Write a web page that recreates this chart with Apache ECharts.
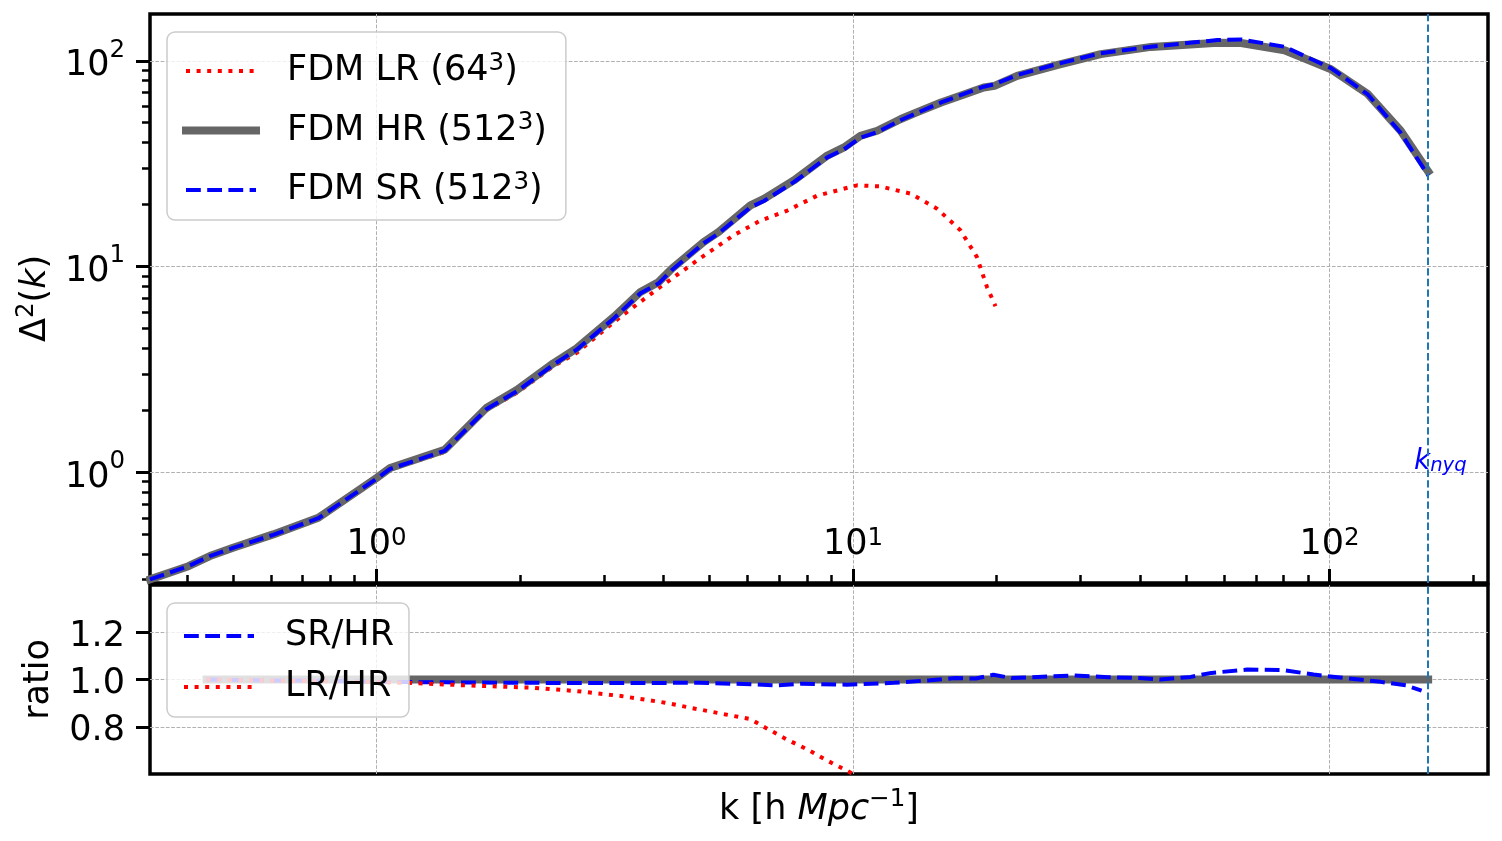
<!DOCTYPE html>
<html>
<head>
<meta charset="utf-8">
<title>FDM power spectrum</title>
<script src="https://cdn.jsdelivr.net/npm/echarts@6.0.0/dist/echarts.min.js"></script>
<style>
  html, body { margin: 0; padding: 0; background: #fff; }
  #chart { width: 1502px; height: 841px; }
</style>
</head>
<body>
<div id="chart"></div>
<script>
// k [h/Mpc] and Delta^2(k)
var kHR = [0.3347, 0.403, 0.447, 0.50, 0.607, 0.755, 1.00, 1.068, 1.39, 1.70, 1.97, 2.35, 2.63, 3.15, 3.58, 3.91, 4.17,
  4.86, 5.22, 6.09, 6.5, 7.51, 8.83, 9.57, 10.37, 11.24, 12.6, 13.6, 15.3, 16.8, 18.8, 19.8, 22.1, 26.9, 33.1, 42.2,
  58.2, 65.2, 80.4, 100.7, 120.3, 141, 161];
var dHR = [0.301, 0.349, 0.391, 0.429, 0.498, 0.600, 0.937, 1.047, 1.285, 2.05, 2.51, 3.38, 4.0, 5.69, 7.52, 8.41, 9.77,
  13.15, 14.7, 19.8, 21.3, 26.2, 34.6, 37.9, 43.2, 45.7, 52.1, 56.1, 62.7, 67.6, 74.1, 75.5, 84.5, 95.5, 107.7, 116.8,
  122.5, 122.1, 112.5, 91.0, 68.9, 45.7, 29.0];
var dSR = [0.301, 0.349, 0.391, 0.428, 0.496, 0.597, 0.928, 1.037, 1.270, 2.02, 2.47, 3.33, 3.94, 5.60, 7.41, 8.28, 9.62,
  12.97, 14.46, 19.4, 20.8, 25.7, 33.9, 37.1, 42.3, 45.0, 51.5, 55.7, 62.7, 68.0, 74.8, 77.0, 85.2, 96.6, 108.8, 117.0,
  126.2, 127.0, 117.0, 92.1, 68.6, 44.6, 27.7];
var kLR = [0.3347, 0.447, 0.607, 0.755, 1.0, 1.068, 1.39, 1.70, 1.97, 2.35, 2.63, 3.25, 3.94, 4.71, 5.62, 6.39, 7.28,
  8.41, 10.2, 11.4, 13.2, 15.0, 16.8, 18.2, 19.1, 19.9];
var dLR = [0.301, 0.391, 0.494, 0.595, 0.926, 1.032, 1.255, 2.0, 2.43, 3.27, 3.80, 5.69, 7.95, 10.7, 14.2, 16.7, 18.7,
  22.1, 24.8, 24.5, 22.6, 19.1, 15.0, 11.1, 7.95, 6.41];

// ratio panel
var kRatioHR = [0.44, 161];
var rHR = [1.0, 1.0];
var kRatioSR = [0.44, 0.5, 0.61, 0.76, 1.0, 1.4, 2.0, 3.0, 4.75, 6.1, 6.9, 7.8, 9.7, 12.2, 14.5, 16.4, 18.1, 19.7,
  21.5, 24.4, 29.0, 34.4, 39.9, 44.1, 51.1, 56.5, 67.2, 79.8, 92.6, 107.8, 128, 144.8, 156];
var rSR = [1.0, 0.998, 0.996, 0.995, 0.99, 0.988, 0.986, 0.985, 0.986, 0.98, 0.975, 0.982, 0.978, 0.986, 0.997, 1.006,
  1.004, 1.02, 1.006, 1.011, 1.017, 1.01, 1.006, 1.0, 1.011, 1.028, 1.042, 1.04, 1.021, 1.006, 0.99, 0.975, 0.953];
var kRatioLR = [0.44, 0.6, 0.8, 1.16, 1.55, 2.13, 2.63, 3.26, 4.03, 4.57, 5.37, 6.1, 6.55, 7.25, 8.0, 8.84, 9.63, 10.2];
var rLR = [1.0, 0.995, 0.992, 0.986, 0.975, 0.965, 0.951, 0.93, 0.902, 0.88, 0.853, 0.832, 0.796, 0.747, 0.705, 0.656,
  0.618, 0.59];

var kNyq = 160.8;
var kNyqLabel = [151.8, 1];

var xRange = [0.3347, 215];
var yRangeTop = [0.2891, 168.8];
var yRangeRatio = [0.6, 1.4];
var majorTicksX = [1, 10, 100];
var minorTicksX = [0.4, 0.5, 0.6, 0.7, 0.8, 0.9, 2, 3, 4, 5, 6, 7, 8, 9, 20, 30, 40, 50, 60, 70, 80, 90, 200];
var majorTicksY = [1, 10, 100];
var minorTicksY = [0.3, 0.4, 0.5, 0.6, 0.7, 0.8, 0.9, 2, 3, 4, 5, 6, 7, 8, 9, 20, 30, 40, 50, 60, 70, 80, 90];
var ratioTicks = [0.8, 1.0, 1.2];

var FONT = 'DejaVu Sans';

function pairs(xs, ys) {
  return xs.map(function (x, i) { return [x, ys[i]]; });
}

function pow10(v) {
  var e = Math.round(Math.log10(v));
  return '{b|10}{e|' + e + '}';
}

// y labels: a tiny spacer token sets the line height so the digits sit a bit below the tick
function pow10Y(v) {
  var e = Math.round(Math.log10(v));
  return '{p| }{b|10}{e|' + e + '}';
}

// "(64³)" -> base text plus a real superscript
function supLegend(name) {
  return name.replace('³', '{s|3}');
}

var powRich = {
  b: { fontSize: 35, fontFamily: FONT, color: '#000', lineHeight: 36, verticalAlign: 'bottom' },
  e: { fontSize: 24.5, fontFamily: FONT, color: '#000', lineHeight: 24, verticalAlign: 'top' }
};
var powRichY = {
  p: { fontSize: 1, lineHeight: 46 },
  b: { fontSize: 35, fontFamily: FONT, color: '#000', lineHeight: 36, verticalAlign: 'bottom' },
  e: { fontSize: 24.5, fontFamily: FONT, color: '#000', lineHeight: 42, verticalAlign: 'top' }
};

var gridLine = { color: '#b0b0b0', width: 1, type: [3.7, 1.6] };
var nyqLine = {
  silent: true,
  symbol: ['none', 'none'],
  label: { show: false },
  lineStyle: { color: '#1f77b4', width: 2, type: [7.4, 3.2] },
  data: [{ xAxis: kNyq }]
};

var legendBase = {
  orient: 'vertical',
  left: 167,
  itemWidth: 70,
  itemHeight: 40,
  selectedMode: false,
  backgroundColor: 'rgba(255,255,255,0.8)',
  borderColor: '#cccccc',
  borderWidth: 1.5,
  borderRadius: 8,
  itemStyle: { color: 'rgba(0,0,0,0)', borderWidth: 0, opacity: 0 },
  lineStyle: { width: 'inherit', opacity: 1 },
  formatter: supLegend,
  textStyle: {
    fontSize: 35, fontFamily: FONT, color: '#000', lineHeight: 40, padding: [0, 0, 0, 26],
    rich: { s: { fontSize: 24.5, fontFamily: FONT, color: '#000', lineHeight: 26, verticalAlign: 'top' } }
  }
};

var chart = echarts.init(document.getElementById('chart'));

var option = {
  animation: false,
  backgroundColor: '#fff',
  grid: [
    { left: 150, right: 14, top: 14, height: 569, show: true, borderColor: '#000', borderWidth: 3.5,
      backgroundColor: 'transparent', outerBoundsMode: 'none' },
    { left: 150, right: 14, top: 585, height: 189, show: true, borderColor: '#000', borderWidth: 3.5,
      backgroundColor: 'transparent', outerBoundsMode: 'none' }
  ],
  legend: [
    Object.assign({}, legendBase, {
      data: ['FDM LR (64³)', 'FDM HR (512³)', 'FDM SR (512³)'],
      top: 32,
      padding: [19, 19, 10, 15],
      itemGap: 19.5
    }),
    Object.assign({}, legendBase, {
      data: ['SR/HR', 'LR/HR'],
      top: 603,
      padding: [13, 15, 10, 15],
      itemGap: 11
    })
  ],
  xAxis: [
    {
      type: 'log', gridIndex: 0, min: xRange[0], max: xRange[1], position: 'bottom',
      axisLine: { show: false },
      axisTick: { show: true, inside: true, length: 14, lineStyle: { color: '#000', width: 3 }, customValues: majorTicksX },
      axisLabel: { show: true, inside: true, margin: 21, customValues: majorTicksX, formatter: pow10, rich: powRich },
      splitLine: { show: true, lineStyle: gridLine }
    },
    {
      type: 'log', gridIndex: 0, min: xRange[0], max: xRange[1], position: 'bottom',
      axisLine: { show: false },
      axisTick: { show: true, inside: true, length: 8, lineStyle: { color: '#000', width: 2.5 }, customValues: minorTicksX },
      axisLabel: { show: false },
      splitLine: { show: false }
    },
    {
      type: 'log', gridIndex: 1, min: xRange[0], max: xRange[1], position: 'bottom',
      axisLine: { show: false },
      axisTick: { show: false, customValues: majorTicksX },
      axisLabel: { show: false },
      splitLine: { show: true, lineStyle: gridLine },
      name: '{n|k [h }{i|Mpc}{e|−1}{n|]}',
      nameLocation: 'middle',
      nameGap: 13,
      nameTextStyle: {
        fontSize: 35, fontFamily: FONT, color: '#000',
        rich: {
          n: { fontSize: 35, fontFamily: FONT, color: '#000', lineHeight: 40, verticalAlign: 'bottom' },
          i: { fontSize: 35, fontFamily: FONT, fontStyle: 'italic', color: '#000', lineHeight: 40, verticalAlign: 'bottom' },
          e: { fontSize: 24.5, fontFamily: FONT, color: '#000', lineHeight: 26, verticalAlign: 'top' }
        }
      }
    }
  ],
  yAxis: [
    {
      type: 'log', gridIndex: 0, min: yRangeTop[0], max: yRangeTop[1], position: 'left',
      axisLine: { show: false },
      axisTick: { show: true, length: 14, lineStyle: { color: '#000', width: 3 }, customValues: majorTicksY },
      axisLabel: { show: true, margin: 25, customValues: majorTicksY, formatter: pow10Y, rich: powRichY },
      splitLine: { show: true, lineStyle: gridLine },
      name: '{n|Δ}{e|2}{n|(}{i|k}{n|)}',
      nameLocation: 'middle',
      nameRotate: 90,
      nameGap: 88,
      nameTextStyle: {
        fontSize: 35, fontFamily: FONT, color: '#000',
        rich: {
          n: { fontSize: 35, fontFamily: FONT, color: '#000', lineHeight: 40, verticalAlign: 'bottom' },
          i: { fontSize: 35, fontFamily: FONT, fontStyle: 'italic', color: '#000', lineHeight: 40, verticalAlign: 'bottom' },
          e: { fontSize: 24.5, fontFamily: FONT, color: '#000', lineHeight: 26, verticalAlign: 'top' }
        }
      }
    },
    {
      type: 'log', gridIndex: 0, min: yRangeTop[0], max: yRangeTop[1], position: 'left',
      axisLine: { show: false },
      axisTick: { show: true, length: 8, lineStyle: { color: '#000', width: 2.5 }, customValues: minorTicksY },
      axisLabel: { show: false },
      splitLine: { show: false }
    },
    {
      type: 'value', gridIndex: 1, min: yRangeRatio[0], max: yRangeRatio[1], interval: 0.2, position: 'left',
      axisLine: { show: false },
      axisTick: { show: true, length: 14, lineStyle: { color: '#000', width: 3 }, customValues: ratioTicks },
      axisLabel: {
        show: true, margin: 25, customValues: ratioTicks,
        formatter: function (v) { return '{v|' + v.toFixed(1) + '}'; },
        rich: { v: { fontSize: 35, fontFamily: FONT, color: '#000', lineHeight: 36, padding: [9, 0, 0, 0] } }
      },
      splitLine: { show: true, lineStyle: gridLine },
      name: 'ratio',
      nameLocation: 'middle',
      nameRotate: 90,
      nameGap: 73,
      nameTextStyle: { fontSize: 35, fontFamily: FONT, color: '#000', lineHeight: 40 }
    }
  ],
  series: [
    {
      name: 'FDM LR (64³)', type: 'line', xAxisIndex: 0, yAxisIndex: 0,
      data: pairs(kLR, dLR), symbol: 'none',
      lineStyle: { color: '#ff0000', width: 4, type: [4, 6.6], cap: 'butt' },
      itemStyle: { color: '#ff0000' }
    },
    {
      name: 'FDM HR (512³)', type: 'line', xAxisIndex: 0, yAxisIndex: 0,
      data: pairs(kHR, dHR), symbol: 'none',
      lineStyle: { color: '#666666', width: 8, cap: 'square' },
      itemStyle: { color: '#666666' }
    },
    {
      name: 'FDM SR (512³)', type: 'line', xAxisIndex: 0, yAxisIndex: 0,
      data: pairs(kHR, dSR), symbol: 'none',
      lineStyle: { color: '#0000ff', width: 4, type: [14.8, 6.4] },
      itemStyle: { color: '#0000ff' },
      markLine: nyqLine
    },
    {
      name: 'knyq', type: 'scatter', xAxisIndex: 0, yAxisIndex: 0,
      data: [kNyqLabel], symbolSize: 0, silent: true,
      itemStyle: { color: '#0000ff', opacity: 1 },
      label: {
        show: true, position: [0, 0], align: 'left', verticalAlign: 'top', offset: [-2, -24], color: '#0000ff',
        formatter: '{k|k}{s|nyq}',
        rich: {
          k: { fontSize: 28, fontFamily: FONT, fontStyle: 'italic', color: '#0000ff', lineHeight: 28, verticalAlign: 'top' },
          s: { fontSize: 19.6, fontFamily: FONT, fontStyle: 'italic', color: '#0000ff', lineHeight: 14, verticalAlign: 'bottom' }
        }
      }
    },
    {
      name: 'HR/HR', type: 'line', xAxisIndex: 2, yAxisIndex: 2,
      data: pairs(kRatioHR, rHR), symbol: 'none',
      lineStyle: { color: '#666666', width: 8, cap: 'square' },
      markLine: nyqLine
    },
    {
      name: 'SR/HR', type: 'line', xAxisIndex: 2, yAxisIndex: 2,
      data: pairs(kRatioSR, rSR), symbol: 'none',
      lineStyle: { color: '#0000ff', width: 4, type: [14.8, 6.4] },
      itemStyle: { color: '#0000ff' }
    },
    {
      name: 'LR/HR', type: 'line', xAxisIndex: 2, yAxisIndex: 2,
      data: pairs(kRatioLR, rLR), symbol: 'none',
      lineStyle: { color: '#ff0000', width: 4, type: [4, 6.6], cap: 'butt' },
      itemStyle: { color: '#ff0000' }
    }
  ]
};

chart.setOption(option);
</script>
</body>
</html>
